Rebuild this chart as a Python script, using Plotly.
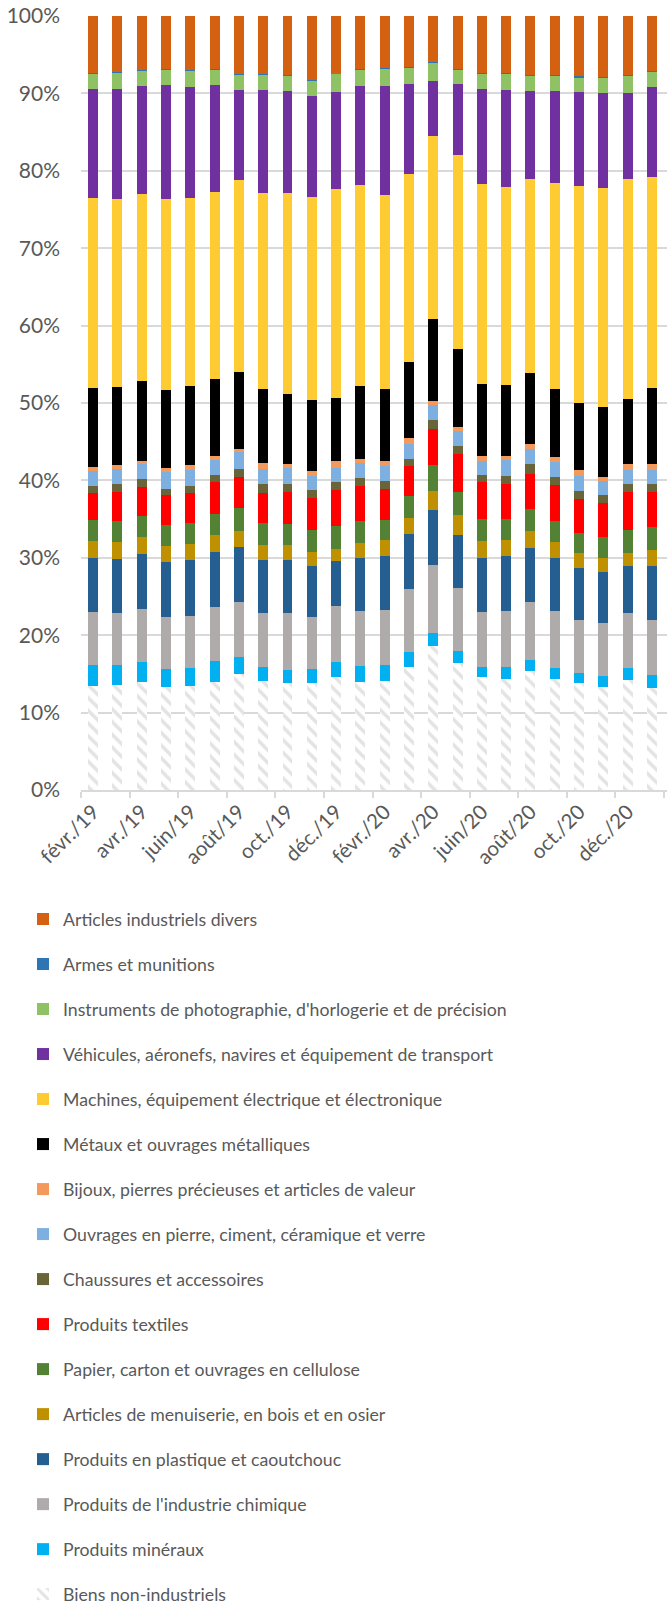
import plotly.graph_objects as go

months = ["févr./19", "mars/19", "avr./19", "mai/19", "juin/19", "juil./19", "août/19", "sept./19",
          "oct./19", "nov./19", "déc./19", "janv./20", "févr./20", "mars/20", "avr./20", "mai/20",
          "juin/20", "juil./20", "août/20", "sept./20", "oct./20", "nov./20", "déc./20", "janv./21"]

biens_non_industriels = [13.49, 13.61, 14.00, 13.27, 13.49, 14.00, 14.95, 14.05, 13.79, 13.87, 14.56, 13.92,
                         14.13, 15.94, 18.66, 16.37, 14.56, 14.39, 15.34, 14.30, 13.79, 13.27, 14.22, 13.18]
produits_mineraux = [2.71, 2.50, 2.50, 2.33, 2.24, 2.63, 2.28, 1.81, 1.72, 1.77, 1.92, 2.15,
                     2.07, 1.85, 1.63, 1.64, 1.30, 1.47, 1.42, 1.43, 1.29, 1.42, 1.51, 1.64]
industrie_chimique = [6.81, 6.81, 6.89, 6.72, 6.72, 6.98, 7.07, 6.97, 7.32, 6.68, 7.28, 7.11,
                      7.11, 8.15, 8.84, 8.10, 7.15, 7.32, 7.58, 7.36, 6.89, 6.94, 7.15, 7.15]
plastique_caoutchouc = [6.98, 6.98, 7.07, 7.11, 7.24, 7.20, 7.07, 6.94, 6.86, 6.63, 5.80, 6.76,
                        6.94, 7.11, 7.06, 6.85, 6.93, 7.02, 6.90, 6.90, 6.68, 6.50, 6.03, 6.94]
menuiserie_bois = [2.15, 2.15, 2.24, 2.11, 2.11, 2.15, 2.11, 1.94, 1.98, 1.86, 1.63, 1.99,
                   2.06, 2.11, 2.50, 2.59, 2.29, 2.16, 2.24, 2.11, 1.98, 1.90, 1.77, 2.11]
papier_carton = [2.80, 2.72, 2.72, 2.71, 2.75, 2.71, 2.97, 2.80, 2.71, 2.80, 2.93, 2.88,
                 2.59, 2.88, 3.36, 3.01, 2.80, 2.71, 2.84, 2.67, 2.55, 2.71, 2.97, 3.03]
produits_textiles = [3.45, 3.70, 3.79, 3.84, 3.80, 4.10, 3.96, 3.84, 4.14, 4.13, 4.70, 4.44,
                     3.96, 3.84, 4.61, 4.87, 4.74, 4.48, 4.52, 4.61, 4.39, 4.31, 4.87, 4.53]
chaussures = [0.90, 1.08, 0.95, 0.86, 0.90, 0.99, 1.12, 1.20, 1.03, 0.99, 1.03, 1.03,
              1.08, 0.90, 1.08, 1.03, 0.90, 1.08, 1.30, 1.12, 1.12, 1.04, 1.03, 1.01]
ouvrages_pierre = [1.90, 1.94, 2.02, 2.11, 2.11, 1.94, 2.11, 1.94, 2.03, 1.90, 1.77, 2.03,
                   1.94, 1.98, 1.94, 1.90, 1.90, 2.02, 1.94, 1.94, 1.90, 1.89, 1.77, 1.85]
bijoux = [0.56, 0.52, 0.39, 0.56, 0.65, 0.51, 0.48, 0.82, 0.51, 0.60, 0.84, 0.47,
          0.64, 0.78, 0.62, 0.56, 0.60, 0.52, 0.60, 0.60, 0.69, 0.52, 0.77, 0.65]
metaux = [10.21, 10.08, 10.21, 10.00, 10.17, 9.87, 9.91, 9.56, 9.01, 9.14, 8.16, 9.40,
          9.31, 9.74, 10.49, 10.04, 9.31, 9.14, 9.18, 8.83, 8.74, 8.92, 8.49, 9.95]
machines = [24.52, 24.26, 24.26, 24.68, 24.30, 24.13, 24.77, 25.25, 26.02, 26.24, 27.02, 25.93,
            25.03, 24.30, 23.66, 25.12, 25.76, 25.54, 25.03, 26.54, 27.96, 28.31, 28.35, 27.19]
vehicules = [14.08, 14.21, 13.91, 14.78, 14.39, 13.87, 11.64, 13.36, 13.19, 13.05, 12.54, 12.84,
             14.09, 11.59, 7.15, 9.13, 12.32, 12.63, 11.42, 11.90, 12.20, 12.32, 11.12, 11.67]
instruments = [2.02, 2.11, 1.98, 2.02, 2.06, 2.02, 2.06, 2.02, 2.01, 2.06, 2.34, 2.11,
               2.24, 2.19, 2.45, 1.93, 1.98, 2.10, 1.97, 2.01, 1.92, 1.97, 2.27, 2.02]
armes = [0.05, 0.08, 0.05, 0.05, 0.05, 0.05, 0.05, 0.05, 0.05, 0.05, 0.05, 0.05,
         0.05, 0.05, 0.05, 0.05, 0.05, 0.05, 0.05, 0.05, 0.10, 0.05, 0.05, 0.05]
articles_divers = [7.37, 7.28, 7.02, 6.85, 7.02, 6.85, 7.45, 7.45, 7.63, 8.23, 7.43, 6.89,
                   6.76, 6.59, 5.90, 6.81, 7.41, 7.37, 7.67, 7.63, 7.80, 7.93, 7.63, 7.11]

y_ticks = [0, 10, 20, 30, 40, 50, 60, 70, 80, 90, 100]

# stacking order: bottom -> top
series = [
    ("Biens non-industriels", biens_non_industriels, "#FFFFFF"),
    ("Produits minéraux", produits_mineraux, "#00B0F0"),
    ("Produits de l'industrie chimique", industrie_chimique, "#AFABAB"),
    ("Produits en plastique et caoutchouc", plastique_caoutchouc, "#255E91"),
    ("Articles de menuiserie, en bois et en osier", menuiserie_bois, "#BF9000"),
    ("Papier, carton et ouvrages en cellulose", papier_carton, "#548235"),
    ("Produits textiles", produits_textiles, "#FF0000"),
    ("Chaussures et accessoires", chaussures, "#6A6439"),
    ("Ouvrages en pierre, ciment, céramique et verre", ouvrages_pierre, "#7DB0E0"),
    ("Bijoux, pierres précieuses et articles de valeur", bijoux, "#F4995C"),
    ("Métaux et ouvrages métalliques", metaux, "#000000"),
    ("Machines, équipement électrique et électronique", machines, "#FFCB33"),
    ("Véhicules, aéronefs, navires et équipement de transport", vehicules, "#7030A0"),
    ("Instruments de photographie, d'horlogerie et de précision", instruments, "#8FC165"),
    ("Armes et munitions", armes, "#2E75B6"),
    ("Articles industriels divers", articles_divers, "#D46012"),
]

FONT = "Lato"
GRAY_TXT = "#595959"

fig = go.Figure()
n = len(series)
for i, (name, vals, col) in enumerate(series):
    marker = dict(color=col, line=dict(width=0))
    if name == "Biens non-industriels":
        marker["pattern"] = dict(shape="\\", fgcolor="#C8C8C8", bgcolor="#FFFFFF", size=9, solidity=0.4)
    fig.add_trace(go.Bar(x=months, y=vals, name=name, marker=marker,
                         legendgroup="g%02d" % i, legendrank=100 + (n - i)))

fig.update_layout(
    width=667, height=1602,
    barmode="stack", barnorm="percent", bargap=0.59,
    plot_bgcolor="white", paper_bgcolor="white",
    margin=dict(l=81, r=0, t=16, b=812, autoexpand=False),
    font=dict(family=FONT, color=GRAY_TXT),
    showlegend=True,
    legend=dict(
        traceorder="grouped", tracegroupgap=19,
        orientation="v", xref="container", yref="container",
        x=23 / 667, y=1 - 901 / 1602, xanchor="left", yanchor="top",
        font=dict(family=FONT, size=17.7, color=GRAY_TXT),
        itemwidth=30, bgcolor="rgba(0,0,0,0)",
    ),
)
fig.update_xaxes(
    type="category", range=[-0.5, 23.62], dtick=2, tick0=0,
    tickangle=-45, tickson="boundaries", ticks="outside", ticklen=6,
    tickcolor="#D9D9D9", tickwidth=1.5,
    showline=True, linecolor="#D9D9D9", linewidth=1.5,
    showgrid=False, tickfont=dict(family=FONT, size=20.5, color=GRAY_TXT),
)
fig.update_yaxes(
    range=[0, 100], tickvals=y_ticks, ticktext=["%d%%" % v for v in y_ticks],
    showgrid=True, gridcolor="#D9D9D9", gridwidth=1.5, zeroline=False,
    showline=False, ticks="", ticklabelstandoff=20,
    tickfont=dict(family=FONT, size=21, color=GRAY_TXT),
)

fig.write_html("out.html", config={"displayModeBar": False},
               post_script="document.body.style.margin='0';")
